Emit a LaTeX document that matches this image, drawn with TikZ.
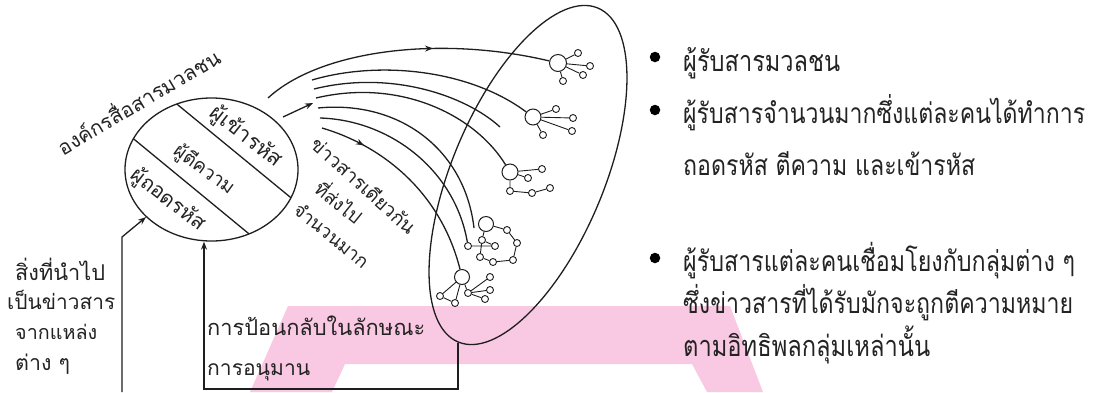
\documentclass[tikz,border=0pt]{standalone}
\usepackage{fontspec}
\newfontfamily\thai[Script=Thai]{Loma}
\usetikzlibrary{shapes.geometric,arrows.meta,decorations.markings}
\definecolor{wm}{RGB}{249,200,226}
\definecolor{ink}{RGB}{30,30,30}
\definecolor{txt}{RGB}{35,35,35}
\newcommand\fw[2]{\resizebox{#1pt}{!}{\thai #2}}
\newcommand\fv[2]{\scalebox{1}[1.22]{\resizebox{#1pt}{!}{\thai #2}}}
\tikzset{
 ln/.style={draw=ink, line width=1.3pt},
 big/.style={circle, draw=ink, line width=1pt, minimum size=15pt, inner sep=0pt},
 sm/.style={circle, draw=ink, line width=0.9pt, minimum size=7pt, inner sep=0pt, fill=white},
 tx/.style={inner sep=0pt, text=txt},
 bul/.style={circle, fill=black, minimum size=10.5pt, inner sep=0pt},
 net/.style={draw=ink, line width=0.9pt},
 midarrow/.style={postaction={decorate}, decoration={markings, mark=at position #1 with {\arrow{Stealth[length=8pt,width=6pt]}}}},
}
\begin{document}
\begin{tikzpicture}[x=1pt,y=-1pt]
\useasboundingbox (0,0) rectangle (1097,392);
% watermark
\fill[wm] (288,306) -- (730,306) -- (763,392) -- (707,392) -- (692,364) -- (345,364) -- (332,392) -- (250,392) -- cycle;

% source circle
\node[ln, ellipse, minimum width=173pt, minimum height=143pt, inner sep=0pt] (src) at (211.5,169.5) {};
\begin{scope}
\clip (211.5,169.5) ellipse [x radius=86.5pt, y radius=71.5pt];
\draw[ln] (140,73.8) -- (320,221.6);
\draw[ln] (100,111.2) -- (290,267.6);
\end{scope}
\node[tx, rotate=-38] (t1) at (246,137) {\fw{85}{ผู้เข้ารหัส}};
\node[tx, rotate=-36] (t2) at (204,170) {\fw{70}{ผู้ตีความ}};
\node[tx, rotate=-38] (t3) at (168,200) {\fw{88}{ผู้ถอดรหัส}};
\node[tx, rotate=30.6] (org) at (137.5,100) {\fw{185}{องค์กรสื่อสารมวลชน}};

% audience ellipse
\node[ln, ellipse, minimum width=362pt, minimum height=152pt, inner sep=0pt, rotate=67.3] (aud) at (528,175) {};

% audience members
\node[big, minimum size=17pt] (n1) at (558,63) {};
\node[sm] (a1) at (578,53) {};
\node[sm] (a2) at (590,66) {};
\node[sm] (a3) at (583,75) {};
\node[sm] (a4) at (563,81) {};
\draw[net] (n1) -- (a1) (n1) -- (a2) (n1) -- (a3) (n1) -- (a4);

\node[big, minimum size=16pt] (n2) at (533,117) {};
\node[sm] (b1) at (556,109) {};
\node[sm] (b2) at (573,118) {};
\node[sm] (b3) at (572,131) {};
\node[sm] (b4) at (543,135) {};
\draw[net] (n2) -- (b1) (n2) -- (b2) (n2) -- (b3) (n2) -- (b4);

\node[big, minimum size=16pt] (n3) at (510,172) {};
\node[sm] (c1) at (542,169) {};
\node[sm] (c2) at (528,178) {};
\node[sm] (c3) at (510,191) {};
\node[sm] (c4) at (532,193) {};
\node[sm] (c5) at (550,188) {};
\draw[net] (n3) -- (c1) (n3) -- (c2) (n3) -- (c3) (c3) -- (c4) -- (c5);

\node[big] (n4) at (486,224) {};
\node[sm] (d1) at (482,240) {};
\node[sm] (d2) at (495,246) {};
\node[sm] (d3) at (507,230) {};
\node[sm] (d4) at (517,243) {};
\node[sm] (d5) at (513,260) {};
\node[sm] (d6) at (493,262) {};
\node[sm] (d7) at (480,257) {};
\node[sm] (d8) at (468,246) {};
\draw[net] (n4) -- (d1) (n4) -- (d3) (d3) -- (d4) -- (d5) -- (d6) -- (d7) -- (d1) (d8) -- (d2) (d1) -- (d2);

\node[big] (n5) at (462,277) {};
\node[sm] (e1) at (440,296) {};
\node[sm] (e2) at (455,303) {};
\node[sm] (e3) at (468,293) {};
\node[sm] (f1) at (490,277) {};
\node[sm] (f2) at (490,290) {};
\node[sm] (f3) at (485,299) {};
\draw[net] (n5) -- (e1) -- (e2) -- (n5) (n5) -- (e3) (e3) -- (f1) (e3) -- (f2) (e3) -- (f3);

% messages
\coordinate (c0) at (268,98);
\draw[ln, midarrow=0.6] (c0) .. controls (320,50) and (440,35) .. (n1);
\coordinate (a0) at (283,117);
\coordinate (a9) at (313,103);
\draw[ln, -{Stealth[length=8pt,width=6pt]}] (a0) -- (a9);
\coordinate (s1) at (312,80);
\coordinate (s2) at (314,89);
\coordinate (s3) at (316,98);
\coordinate (s4) at (318,108);
\coordinate (s5) at (320,118);
\coordinate (s6) at (322,128);
\coordinate (e4) at (474,228);
\coordinate (e9) at (500,127);
\draw[ln] (s1) .. controls (380,60) and (470,70) .. (n2);
\draw[ln] (s2) .. controls (390,70) and (465,95) .. (e9);
\draw[ln] (s3) .. controls (400,78) and (475,115) .. (n3);
\draw[ln] (s4) .. controls (400,100) and (465,150) .. (e4);
\draw[ln] (s5) .. controls (390,120) and (455,170) .. (d8);
\draw[ln, midarrow=0.22] (s6) .. controls (380,145) and (440,190) .. (n5);

\node[tx, rotate=-42] (m1) at (364,185) {\fw{133}{ข่าวสารเดียวกัน}};
\node[tx, rotate=-39] (m2) at (340,201) {\fw{54}{ที่ส่งไป}};
\node[tx, rotate=-39] (m3) at (332,235) {\fw{90}{จำนวนมาก}};

% source input
\coordinate (in0) at (122,392);
\coordinate (in1) at (122,237);
\draw[ln, -{Stealth[length=8pt,width=6pt]}] (in0) -- (in1) -- (src.216);
\node[tx, anchor=base west] (l1) at (15,280) {\fw{90}{สิ่งที่นำไป}};
\node[tx, anchor=base west] (l2) at (7,309) {\fw{108}{เป็นข่าวสาร}};
\node[tx, anchor=base west] (l3) at (15,339) {\fw{82}{จากแหล่ง}};
\node[tx, anchor=base west] (l4) at (15,370) {\fw{55}{ต่าง ๆ}};

% feedback
\coordinate (fb1) at (458,389);
\coordinate (fb2) at (204,389);
\draw[ln, -{Stealth[length=8pt,width=6pt]}] (aud.west) -- (aud.west |- fb1) -- (fb2) -- (fb2 |- src.south);
\node[tx, anchor=base west] (g1) at (207,335) {\fw{218}{การป้อนกลับในลักษณะ}};
\node[tx, anchor=base west] (g2) at (207,375) {\fw{103}{การอนุมาน}};

% right text
\node[bul] (p1) at (655,57) {};
\node[bul] (p2) at (655,110) {};
\node[bul] (p3) at (655,258) {};
\node[tx, anchor=base west] (r1) at (683,71) {\fv{157}{ผู้รับสารมวลชน}};
\node[tx, anchor=base west] (r2) at (683,123) {\fv{402}{ผู้รับสารจำนวนมากซึ่งแต่ละคนได้ทำการ}};
\node[tx, anchor=base west] (r3) at (683,175) {\fv{292}{ถอดรหัส ตีความ และเข้ารหัส}};
\node[tx, anchor=base west] (r4) at (683,271) {\fv{392}{ผู้รับสารแต่ละคนเชื่อมโยงกับกลุ่มต่าง ๆ}};
\node[tx, anchor=base west] (r5) at (683,313) {\fv{390}{ซึ่งข่าวสารที่ได้รับมักจะถูกตีความหมาย}};
\node[tx, anchor=base west] (r6) at (683,356) {\fv{247}{ตามอิทธิพลกลุ่มเหล่านั้น}};
\end{tikzpicture}
\end{document}
